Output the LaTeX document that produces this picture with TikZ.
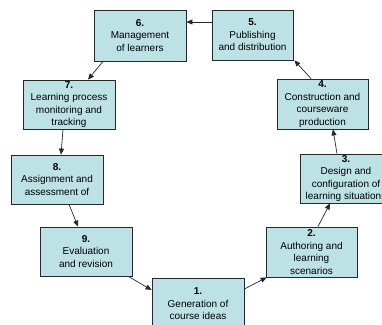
\documentclass[tikz,border=0pt]{standalone}
\usepackage{fontspec}
\setmainfont{Liberation Sans}
\usetikzlibrary{arrows.meta}
\definecolor{boxfill}{RGB}{189,226,229}
\definecolor{boxline}{RGB}{40,40,40}
\tikzset{
  stage/.style={draw=boxline, line width=0.8pt, fill=boxfill, align=center,
    inner sep=0pt, font=\fontsize{10}{12.5}\selectfont},
  flow/.style={draw=black!85, line width=0.7pt,
    -{Triangle[length=6pt,width=5pt]}},
}
\begin{document}
\begin{tikzpicture}[x=1pt,y=-1pt]
\useasboundingbox (0,0) rectangle (382,324);

% the nine stages of the cycle
\node[stage, minimum width=92pt, minimum height=52pt] (b1) at (198,304)
  {\textbf{1.}\\Generation of\\course ideas};
\node[stage, minimum width=91pt, minimum height=50pt] (b2) at (311.5,252)
  {\textbf{2.}\\Authoring and\\learning\\scenarios};
\node[stage, minimum width=92pt, minimum height=49pt] (b3) at (346,178.5)
  {\textbf{3.}\\Design and\\configuration of\\learning situations};
\node[stage, minimum width=91pt, minimum height=50pt] (b4) at (322.5,104)
  {\textbf{4.}\\Construction and\\courseware\\production};
\node[stage, minimum width=81pt, minimum height=50pt] (b5) at (252.5,35)
  {\textbf{5.}\\Publishing\\and distribution};
\node[stage, minimum width=92pt, minimum height=51pt] (b6) at (140,35.5)
  {\textbf{6.}\\Management\\of learners};
\node[stage, minimum width=92pt, minimum height=49pt] (b7) at (69,104.5)
  {\textbf{7.}\\Learning process\\monitoring and\\tracking};
\node[stage, minimum width=92pt, minimum height=49pt] (b8) at (57,179.5)
  {\textbf{8.}\\Assignment and\\assessment of};
\node[stage, minimum width=92pt, minimum height=49pt] (b9) at (86,251.5)
  {\textbf{9.}\\Evaluation\\and revision};

% connectors around the cycle
\draw[flow] ([yshift=15pt]b1.east) -- ([xshift=1pt]b2.south west);
\draw[flow] ([xshift=6.5pt]b2.north) -- ([xshift=-16pt]b3.south);
\draw[flow] ([xshift=-9pt]b3.north) -- ([xshift=10.5pt]b4.south);
\draw[flow] ([xshift=-11.5pt]b4.north) -- ([xshift=1pt]b5.south east);
\draw[flow] ([yshift=13pt]b5.west) -- ([yshift=13.5pt]b6.east);
\draw[flow] ([xshift=-37pt]b6.south) -- ([xshift=19pt]b7.north);
\draw[flow] ([xshift=-6pt]b7.south) -- ([xshift=4pt]b8.north);
\draw[flow] ([xshift=12pt]b8.south) -- ([xshift=-8pt]b9.north);
\draw[flow] ([xshift=-4pt]b9.south east) -- ([yshift=14pt]b1.west);
\end{tikzpicture}
\end{document}
